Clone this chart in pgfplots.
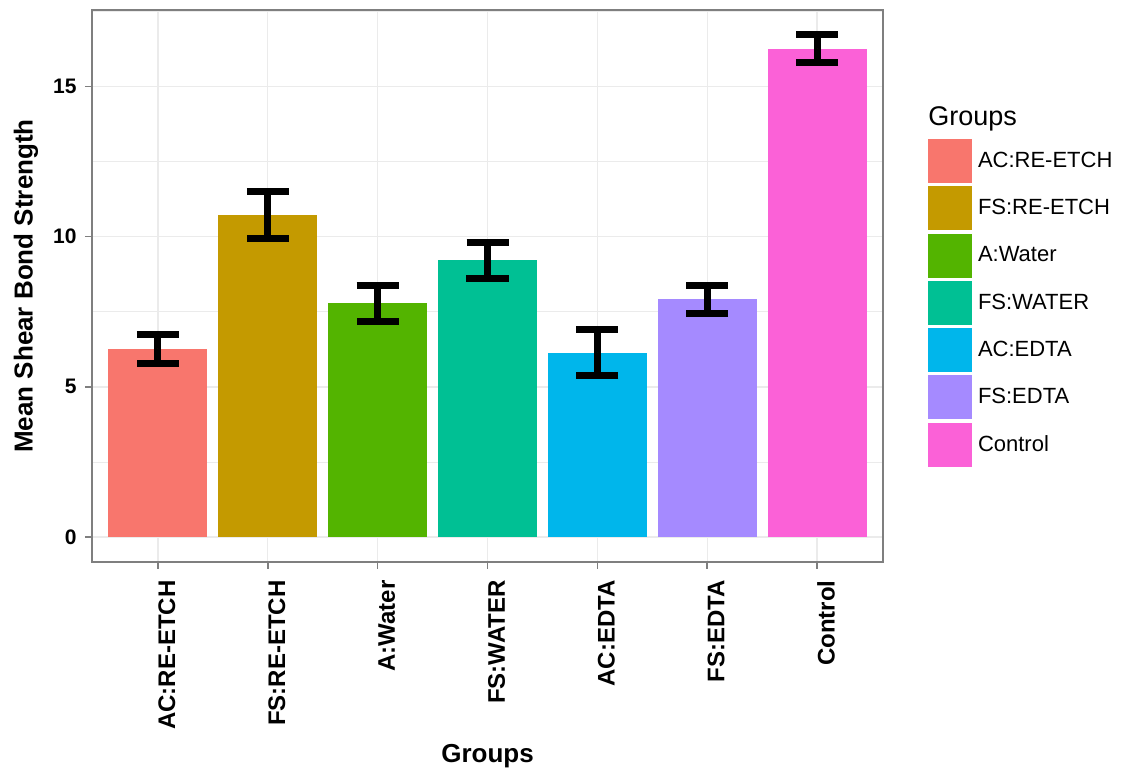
\documentclass[border=0pt]{standalone}
\usepackage{pgfplots}
\pgfplotsset{compat=1.18}
\usepackage{fontspec}
\setmainfont{Liberation Sans}
\definecolor{c1}{HTML}{F8766D}
\definecolor{c2}{HTML}{C49A00}
\definecolor{c3}{HTML}{53B400}
\definecolor{c4}{HTML}{00C094}
\definecolor{c5}{HTML}{00B6EB}
\definecolor{c6}{HTML}{A58AFF}
\definecolor{c7}{HTML}{FB61D7}
\definecolor{gridc}{HTML}{EBEBEB}
\definecolor{framec}{HTML}{7F7F7F}
\begin{document}
\begin{tikzpicture}
\useasboundingbox (-46pt,-106pt) rectangle (518.5pt,281pt);
\begin{axis}[
  scale only axis, width=395.5pt, height=276pt,
  at={(0pt,0pt)}, anchor=south west,
  clip=false,
  xmin=0.4, xmax=7.6, ymin=-0.835, ymax=17.55,
  xtick={1,2,3,4,5,6,7},
  xticklabels={AC:RE-ETCH,FS:RE-ETCH,A:Water,FS:WATER,AC:EDTA,FS:EDTA,Control},
  ytick={0,5,10,15}, minor ytick={2.5,7.5,12.5,17.5},
  tick pos=left, tick align=outside, major tick length=3.5pt, minor tick length=0pt,
  every tick/.style={framec, line width=0.75pt},
  axis line style={framec, line width=0.75pt},
  xmajorgrids, ymajorgrids, yminorgrids,
  major grid style={gridc, line width=0.7pt},
  minor grid style={gridc, line width=0.35pt},
  /pgf/number format/assume math mode=true,
  yticklabel style={font=\fontsize{10.5}{12}\selectfont\bfseries, anchor=east, inner sep=0pt, xshift=-4pt},
  xticklabel style={font=\fontsize{12}{14}\selectfont\bfseries, inner sep=0pt, xshift=4.5pt, yshift=-5.5pt, rotate=90, anchor=east},
  ylabel={Mean Shear Bond Strength},
  ylabel style={at={(axis description cs:-0.0835,0.5)}, anchor=center, font=\fontsize{13}{15}\selectfont\bfseries},
  xlabel={Groups},
  xlabel style={at={(axis description cs:0.5,-0.3641)}, anchor=base, font=\fontsize{13}{15}\selectfont\bfseries},
  error bars/y dir=both, error bars/y explicit,
  error bars/error bar style={draw=black, line width=3.5pt},
  error bars/error mark options={rotate=90, draw=black, line width=3.5pt, mark size=10.5pt},
  legend style={at={(1,1)}, anchor=north west, xshift=22.5pt, yshift=-64.5pt,
    draw=none, fill=none, inner sep=0pt, outer sep=0pt, row sep=1.65pt, column sep=3pt,
    font=\fontsize{11}{13}\selectfont, nodes={inner sep=0pt}, cells={anchor=west}},
  legend image code/.code={\fill[#1] (0pt,-11pt) rectangle (22pt,11pt);},
]
\addplot[ybar, bar width=0.9, bar shift=0pt, fill=c1, draw=none] coordinates {(1,6.27) +- (0,0.48)};
\addlegendentry{AC:RE-ETCH}
\addplot[ybar, bar width=0.9, bar shift=0pt, fill=c2, draw=none] coordinates {(2,10.71) +- (0,0.78)};
\addlegendentry{FS:RE-ETCH}
\addplot[ybar, bar width=0.9, bar shift=0pt, fill=c3, draw=none] coordinates {(3,7.78) +- (0,0.60)};
\addlegendentry{A:Water}
\addplot[ybar, bar width=0.9, bar shift=0pt, fill=c4, draw=none] coordinates {(4,9.21) +- (0,0.61)};
\addlegendentry{FS:WATER}
\addplot[ybar, bar width=0.9, bar shift=0pt, fill=c5, draw=none] coordinates {(5,6.14) +- (0,0.76)};
\addlegendentry{AC:EDTA}
\addplot[ybar, bar width=0.9, bar shift=0pt, fill=c6, draw=none] coordinates {(6,7.92) +- (0,0.47)};
\addlegendentry{FS:EDTA}
\addplot[ybar, bar width=0.9, bar shift=0pt, fill=c7, draw=none] coordinates {(7,16.26) +- (0,0.47)};
\addlegendentry{Control}
\node[anchor=base west, inner sep=0pt, xshift=22.5pt, yshift=-58pt, font=\fontsize{13.5}{16}\selectfont] at (rel axis cs:1,1) {Groups};
\end{axis}
\end{tikzpicture}
\end{document}
